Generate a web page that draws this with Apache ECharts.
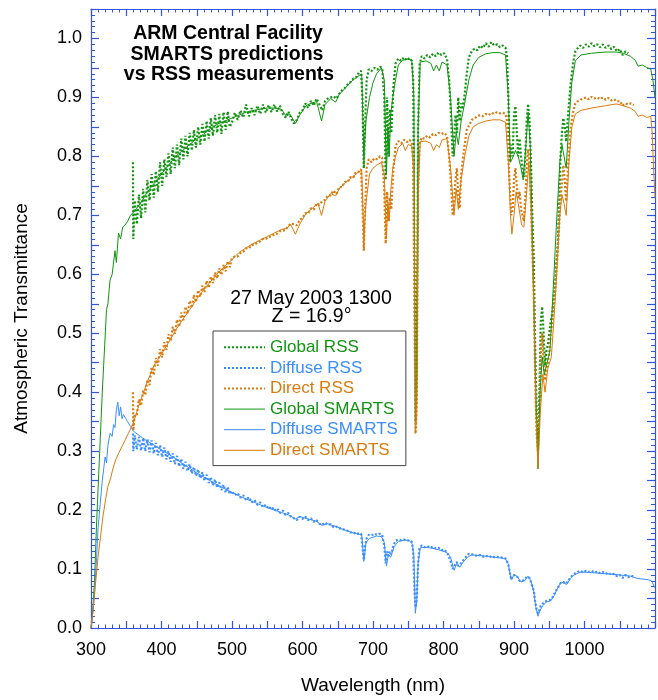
<!DOCTYPE html>
<html>
<head>
<meta charset="utf-8">
<script src="https://cdn.jsdelivr.net/npm/echarts@6/dist/echarts.min.js"></script>
<style>
html,body{margin:0;padding:0;background:#fff;}
#chart{width:658px;height:700px;}
</style>
</head>
<body>
<div id="chart"></div>
<script>
// ---------------- DATA ----------------
const xTicks = [300, 400, 500, 600, 700, 800, 900, 1000];
const yTicks = [0.0, 0.1, 0.2, 0.3, 0.4, 0.5, 0.6, 0.7, 0.8, 0.9, 1.0];

// RSS measurements (shared wavelength grid, nm)
const wlRSS = [359.5,360,362,365,368,371,374,377,380,383,386,389,392,395,398,401,404,407,410,413,416,419,422,425,428,431,434,437,440,443,446,449,452,455,458,461,464,467,470,473,476,479,482,485,488,491,494,497,
500,504,508,512,516,520,524,528,532,536,540,544,548,552,556,560,564,568,572,576,580,584,588,592,596,600,604,608,612,616,620,624,628,632,636,640,644,648,652,656,660,664,668,672,676,680,
683,685,687,689,691,694,698,702,706,710,713,716,718,720,722,724,726,729,732,736,740,744,748,752,755,757,759,760.5,762,764,766,769,773,777,781,785,789,793,797,801,805,808,811,813,815,817,819,821,823,825,827,830,833,836,840,844,848,852,856,860,864,868,872,876,880,884,888,890,892,894,896,898,900,902,904,906,908,910,912,914,916,918,920,922,924,926,928,930,932,934,936,938,940,942,944,946,948,950,952,954,956,958,960,962,964,966,968,970,972,974,976,978,980,982,984,987,990,994,998,1002,1006,1010,1014,1018,1022,1026,1030,1034,1038,1042,1046,1050,1054,1058,1062,1066,1070];

const globalRSS = [0.79,0.66,0.725,0.685,0.735,0.695,0.745,0.705,0.76,0.725,0.77,0.73,0.775,0.74,0.79,0.75,0.795,0.765,0.805,0.77,0.815,0.78,0.82,0.785,0.83,0.795,0.835,0.80,0.84,0.81,0.845,0.815,0.85,0.82,0.855,0.825,0.86,0.83,0.865,0.835,0.87,0.84,0.872,0.838,0.875,0.845,0.876,0.85,
0.858,0.874,0.862,0.878,0.866,0.888,0.868,0.882,0.87,0.886,0.872,0.888,0.874,0.887,0.875,0.888,0.876,0.886,0.872,0.866,0.876,0.864,0.856,0.862,0.874,0.878,0.89,0.882,0.894,0.886,0.898,0.888,0.878,0.894,0.898,0.9,0.902,0.898,0.906,0.912,0.916,0.922,0.926,0.932,0.934,0.942,
0.945,0.90,0.78,0.86,0.93,0.948,0.945,0.95,0.947,0.952,0.95,0.90,0.76,0.90,0.80,0.88,0.84,0.92,0.958,0.966,0.962,0.968,0.963,0.967,0.962,0.93,0.60,0.40,0.45,0.85,0.955,0.97,0.966,0.972,0.968,0.974,0.97,0.976,0.972,0.975,0.965,0.93,0.86,0.80,0.83,0.87,0.84,0.90,0.86,0.89,0.88,0.905,0.94,0.968,0.978,0.983,0.98,0.988,0.984,0.992,0.986,0.994,0.988,0.99,0.985,0.988,0.984,0.97,0.90,0.79,0.82,0.80,0.87,0.885,0.84,0.80,0.83,0.80,0.78,0.765,0.80,0.86,0.889,0.86,0.79,0.70,0.63,0.48,0.365,0.32,0.40,0.52,0.545,0.50,0.445,0.47,0.48,0.50,0.52,0.53,0.56,0.58,0.62,0.65,0.72,0.80,0.84,0.865,0.85,0.825,0.86,0.89,0.92,0.94,0.96,0.978,0.983,0.988,0.984,0.99,0.986,0.992,0.987,0.99,0.985,0.99,0.984,0.988,0.982,0.986,0.978,0.982,0.972,0.978,0.975,null,null];

const diffuseRSS = [0.33,0.30,0.327,0.303,0.324,0.301,0.322,0.3,0.32,0.298,0.318,0.296,0.314,0.293,0.31,0.29,0.306,0.286,0.3,0.282,0.296,0.278,0.292,0.274,0.287,0.27,0.282,0.266,0.278,0.262,0.273,0.258,0.269,0.254,0.264,0.25,0.26,0.246,0.256,0.242,0.252,0.238,0.247,0.234,0.243,0.23,0.239,0.227,
0.232,0.225,0.229,0.221,0.225,0.217,0.222,0.213,0.217,0.209,0.213,0.205,0.209,0.202,0.206,0.199,0.203,0.195,0.199,0.192,0.195,0.188,0.186,0.183,0.189,0.185,0.189,0.183,0.186,0.18,0.183,0.177,0.175,0.179,0.175,0.176,0.171,0.172,0.169,0.169,0.166,0.165,0.162,0.163,0.159,0.161,
0.160,0.14,0.115,0.14,0.152,0.158,0.157,0.16,0.158,0.16,0.158,0.14,0.11,0.13,0.122,0.13,0.125,0.14,0.148,0.15,0.149,0.15,0.148,0.149,0.146,0.13,0.06,0.035,0.05,0.11,0.135,0.14,0.137,0.139,0.136,0.138,0.135,0.136,0.132,0.133,0.128,0.12,0.11,0.10,0.098,0.108,0.112,0.105,0.103,0.11,0.112,0.118,0.122,0.126,0.125,0.124,0.122,0.124,0.121,0.123,0.12,0.122,0.12,0.121,0.119,0.12,0.118,0.115,0.108,0.095,0.082,0.085,0.09,0.092,0.088,0.085,0.08,0.078,0.08,0.079,0.083,0.087,0.089,0.085,0.078,0.07,0.064,0.045,0.032,0.025,0.03,0.038,0.04,0.043,0.044,0.046,0.045,0.047,0.048,0.05,0.055,0.06,0.064,0.068,0.072,0.076,0.079,0.078,0.076,0.075,0.078,0.082,0.085,0.088,0.09,0.093,0.095,0.097,0.094,0.097,0.095,0.097,0.094,0.096,0.093,0.095,0.092,0.094,0.09,0.092,0.088,0.09,0.085,0.09,0.086,0.089,0.087];

const directRSS = [0.40,0.335,0.362,0.362,0.388,0.377,0.403,0.395,0.421,0.412,0.443,0.429,0.458,0.445,0.473,0.459,0.485,0.472,0.498,0.487,0.511,0.499,0.523,0.511,0.535,0.522,0.545,0.533,0.555,0.543,0.565,0.553,0.573,0.562,0.581,0.57,0.589,0.577,0.596,0.585,0.603,0.593,0.61,0.599,0.616,0.605,0.622,0.612,
0.628,0.63,0.63,0.636,0.638,0.644,0.644,0.65,0.65,0.654,0.656,0.66,0.66,0.664,0.664,0.668,0.669,0.673,0.674,0.675,0.682,0.686,0.685,0.683,0.692,0.696,0.704,0.703,0.712,0.71,0.72,0.718,0.724,0.726,0.734,0.734,0.742,0.736,0.748,0.748,0.757,0.756,0.765,0.764,0.774,0.774,
0.778,0.72,0.64,0.72,0.78,0.795,0.79,0.797,0.795,0.80,0.798,0.74,0.652,0.74,0.69,0.73,0.71,0.78,0.818,0.826,0.822,0.828,0.824,0.828,0.824,0.79,0.50,0.33,0.38,0.74,0.822,0.832,0.83,0.835,0.832,0.838,0.836,0.84,0.838,0.84,0.835,0.80,0.745,0.70,0.72,0.76,0.78,0.73,0.712,0.77,0.79,0.82,0.845,0.852,0.862,0.864,0.868,0.87,0.868,0.872,0.87,0.874,0.872,0.875,0.873,0.874,0.872,0.86,0.80,0.75,0.70,0.71,0.76,0.78,0.75,0.728,0.74,0.71,0.70,0.69,0.73,0.78,0.812,0.79,0.72,0.64,0.565,0.42,0.33,0.30,0.36,0.46,0.50,0.45,0.42,0.44,0.45,0.47,0.50,0.515,0.54,0.56,0.60,0.64,0.68,0.73,0.755,0.785,0.76,0.724,0.77,0.81,0.845,0.862,0.876,0.89,0.893,0.896,0.898,0.9,0.897,0.901,0.898,0.9,0.897,0.9,0.896,0.899,0.895,0.897,0.893,0.894,0.886,0.89,0.888,0.89,0.887];

// SMARTS predictions
const wlGlobalSMARTS = [300,302,305,308,312,316,319,322,324,327,330,334,336,339,342,345,348,352,356,360,370,380,390,400,410,420,430,440,450,460,470,480,490,500,510,520,530,540,550,560,570,577,582,590,596,605,612,620,627,632,640,647,652,660,670,680,684,687,690,695,700,705,712,716,719,721,723,725,728,732,736,742,750,755,758,760,762,764,767,775,782,786,790,794,798,805,810,815,818,821,825,830,836,842,850,860,870,880,888,892,895,899,902,906,910,913,917,920,923,927,931,934,937,940,943,947,951,955,960,965,968,971,974,978,982,987,995,1010,1030,1045,1055,1065,1072,1076,1082,1088,1094,1097,1100];
const globalSMARTS = [0.0,0.02,0.08,0.18,0.29,0.40,0.47,0.54,0.55,0.59,0.60,0.64,0.62,0.67,0.66,0.68,0.683,0.69,0.70,0.705,0.72,0.74,0.755,0.77,0.785,0.80,0.81,0.82,0.83,0.838,0.848,0.855,0.86,0.865,0.87,0.875,0.878,0.88,0.882,0.882,0.88,0.868,0.872,0.856,0.87,0.886,0.89,0.893,0.86,0.888,0.898,0.892,0.905,0.915,0.928,0.937,0.94,0.80,0.86,0.90,0.925,0.94,0.95,0.93,0.77,0.85,0.80,0.87,0.90,0.93,0.955,0.963,0.965,0.963,0.90,0.35,0.40,0.85,0.96,0.962,0.958,0.945,0.955,0.945,0.96,0.955,0.90,0.80,0.84,0.82,0.86,0.89,0.93,0.955,0.968,0.974,0.976,0.976,0.972,0.90,0.79,0.80,0.81,0.80,0.78,0.76,0.82,0.875,0.82,0.62,0.40,0.27,0.40,0.46,0.43,0.45,0.47,0.56,0.68,0.79,0.82,0.80,0.78,0.86,0.925,0.962,0.972,0.975,0.977,0.977,0.975,0.97,0.963,0.953,0.955,0.951,0.948,0.93,0.90];

const wlDiffuseSMARTS = [300,302,305,308,310,313,316,318,320,322,324,327,330,332,334,336,338,340,342,344,346,348,352,356,360,370,380,390,400,410,420,430,440,450,460,470,480,490,500,510,520,530,540,550,560,570,580,590,596,605,620,628,635,650,660,670,680,684,687,690,695,705,712,716,719,722,725,730,736,745,752,756,758,760,762,764,767,775,785,795,805,810,815,819,823,828,834,840,860,880,888,892,896,900,904,910,915,920,924,928,931,934,937,941,946,952,957,962,967,971,975,980,985,995,1010,1030,1050,1065,1075,1090,1095,1100];
const diffuseSMARTS = [0.0,0.02,0.06,0.12,0.17,0.21,0.25,0.27,0.29,0.28,0.31,0.33,0.325,0.345,0.34,0.37,0.383,0.36,0.375,0.355,0.362,0.358,0.35,0.342,0.334,0.325,0.317,0.31,0.302,0.295,0.287,0.279,0.271,0.263,0.256,0.249,0.242,0.236,0.23,0.224,0.219,0.214,0.209,0.204,0.2,0.196,0.192,0.185,0.189,0.186,0.181,0.174,0.177,0.171,0.166,0.162,0.159,0.158,0.113,0.145,0.152,0.156,0.155,0.145,0.105,0.125,0.12,0.138,0.147,0.149,0.148,0.142,0.12,0.025,0.045,0.11,0.136,0.137,0.135,0.132,0.128,0.12,0.098,0.11,0.103,0.112,0.12,0.124,0.122,0.119,0.117,0.108,0.082,0.09,0.088,0.078,0.08,0.088,0.08,0.062,0.035,0.02,0.03,0.038,0.044,0.046,0.055,0.068,0.078,0.076,0.074,0.084,0.09,0.095,0.094,0.092,0.09,0.088,0.084,0.082,0.08,0.068];

const wlDirectSMARTS = [300,303,306,310,314,317,321,324,328,331,335,339,344,348,353,357,360,370,380,390,400,410,420,430,440,450,460,470,480,490,500,510,520,530,540,550,560,570,578,583,590,596,605,615,622,627,632,640,647,652,660,670,680,684,687,690,695,700,705,712,716,719,721,723,725,728,732,736,742,746,750,755,758,760,762,764,767,775,782,786,790,794,798,805,810,815,818,821,825,830,836,842,850,860,870,880,888,892,895,897,900,903,906,911,914,918,921,924,928,931,934,937,941,944,948,953,957,961,965,968,971,974,978,982,987,995,1010,1030,1045,1055,1065,1072,1076,1082,1088,1094,1096,1098,1100];
const directSMARTS = [0.0,0.03,0.07,0.12,0.16,0.19,0.22,0.24,0.255,0.27,0.285,0.296,0.308,0.318,0.33,0.34,0.348,0.385,0.418,0.447,0.465,0.484,0.505,0.523,0.54,0.558,0.574,0.588,0.602,0.614,0.625,0.637,0.645,0.652,0.658,0.664,0.67,0.676,0.678,0.685,0.668,0.685,0.703,0.713,0.72,0.70,0.724,0.737,0.733,0.745,0.755,0.764,0.774,0.776,0.66,0.72,0.77,0.78,0.785,0.79,0.77,0.66,0.72,0.69,0.74,0.78,0.80,0.815,0.822,0.81,0.82,0.818,0.77,0.33,0.36,0.74,0.825,0.826,0.822,0.81,0.82,0.815,0.828,0.83,0.78,0.70,0.745,0.71,0.76,0.80,0.835,0.85,0.856,0.86,0.862,0.862,0.858,0.79,0.70,0.668,0.70,0.74,0.72,0.683,0.68,0.74,0.79,0.72,0.55,0.37,0.27,0.36,0.43,0.40,0.44,0.46,0.53,0.61,0.70,0.735,0.72,0.70,0.79,0.85,0.872,0.878,0.882,0.886,0.889,0.886,0.882,0.876,0.868,0.87,0.866,0.868,0.84,0.78,0.73];

// Text
const titleLines = ['ARM Central Facility', 'SMARTS predictions', 'vs RSS measurements'];
const dateText = '27 May 2003 1300';
const zenithText = 'Z = 16.9°';
const seriesNames = ['Global RSS', 'Diffuse RSS', 'Direct RSS', 'Global SMARTS', 'Diffuse SMARTS', 'Direct SMARTS'];

// ---------------- STYLE ----------------
const GREEN = '#129412', BLUE = '#3b8eff', ORANGE = '#d97b0d';
const AXIS = '#3355dd';
const FONT = '"Liberation Sans", Arial, Helvetica, sans-serif';

function pairs(xs, ys) { return xs.map((x, i) => [x, ys[i]]); }

const chart = echarts.init(document.getElementById('chart'), null, {renderer: 'canvas'});

const xLabelFmt = v => (xTicks.indexOf(v) >= 0 ? String(v) : '');
const yLabelFmt = v => {
  for (const t of yTicks) if (Math.abs(t - v) < 1e-6) return t.toFixed(1);
  return '';
};

function xAxisDef(pos, showLabel) {
  return {
    type: 'value', position: pos, min: 300, max: 1100, interval: 50,
    axisLine: {show: true, onZero: false, lineStyle: {color: AXIS, width: 1.2}},
    axisTick: {show: true, inside: true, length: 7, lineStyle: {color: AXIS, width: 1.2}},
    minorTick: {show: true, splitNumber: 5, length: 3.5, lineStyle: {color: AXIS, width: 1}},
    axisLabel: {show: showLabel, formatter: xLabelFmt, color: '#000', fontSize: 18, fontFamily: FONT, margin: 13},
    splitLine: {show: false},
    name: showLabel ? 'Wavelength (nm)' : '',
    nameLocation: 'middle', nameGap: 48,
    nameTextStyle: {color: '#000', fontSize: 19, fontFamily: FONT}
  };
}
function yAxisDef(pos, showLabel) {
  return {
    type: 'value', position: pos, min: 0, max: 1.05, interval: 0.05,
    axisLine: {show: true, onZero: false, lineStyle: {color: AXIS, width: 1.2}},
    axisTick: {show: true, inside: true, length: 8, lineStyle: {color: AXIS, width: 1.2}},
    minorTick: {show: true, splitNumber: 5, length: 4, lineStyle: {color: AXIS, width: 1}},
    axisLabel: {show: showLabel, formatter: yLabelFmt, color: '#000', fontSize: 18, fontFamily: FONT, margin: 9},
    splitLine: {show: false},
    name: showLabel ? 'Atmospheric Transmittance' : '',
    nameLocation: 'middle', nameGap: 60, nameRotate: 90,
    nameTextStyle: {color: '#000', fontSize: 19, fontFamily: FONT}
  };
}

const rssDash = [2, 2];
function lineSeries(name, color, data, dashed, z) {
  return {
    name: name, type: 'line', data: data, symbol: 'none', showSymbol: false,
    xAxisIndex: 0, yAxisIndex: 0, connectNulls: false, z: z,
    lineStyle: {color: color, width: dashed ? 2.2 : 1, type: dashed ? rssDash : 'solid'},
    itemStyle: {color: color},
    emphasis: {disabled: true}
  };
}
function legendItem(name, color, dashed) {
  return {name: name, textStyle: {color: color},
          lineStyle: {color: color, width: dashed ? 2 : 1, type: dashed ? rssDash : 'solid'}};
}

const option = {
  animation: false,
  backgroundColor: '#fff',
  grid: {left: 91, top: 9, width: 566, height: 622, containLabel: false},
  xAxis: [xAxisDef('bottom', true), xAxisDef('top', false)],
  yAxis: [yAxisDef('left', true), yAxisDef('right', false)],
  legend: {
    orient: 'vertical', left: 213, top: 331,
    padding: [6, 8, 5, 10], itemGap: 0,
    itemWidth: 41, itemHeight: 14,
    backgroundColor: '#fff', borderColor: '#444', borderWidth: 1,
    selectedMode: false,
    itemStyle: {opacity: 0, borderWidth: 0},
    textStyle: {fontSize: 17, fontFamily: FONT, lineHeight: 20.6},
    data: [
      legendItem(seriesNames[0], GREEN, true),
      legendItem(seriesNames[1], BLUE, true),
      legendItem(seriesNames[2], ORANGE, true),
      legendItem(seriesNames[3], GREEN, false),
      legendItem(seriesNames[4], BLUE, false),
      legendItem(seriesNames[5], ORANGE, false)
    ]
  },
  series: [
    lineSeries(seriesNames[0], GREEN, pairs(wlRSS, globalRSS), true, 2),
    lineSeries(seriesNames[1], BLUE, pairs(wlRSS, diffuseRSS), true, 2),
    lineSeries(seriesNames[2], ORANGE, pairs(wlRSS, directRSS), true, 2),
    lineSeries(seriesNames[3], GREEN, pairs(wlGlobalSMARTS, globalSMARTS), false, 3),
    lineSeries(seriesNames[4], BLUE, pairs(wlDiffuseSMARTS, diffuseSMARTS), false, 3),
    lineSeries(seriesNames[5], ORANGE, pairs(wlDirectSMARTS, directSMARTS), false, 3)
  ],
  graphic: [
    {type: 'text', x: 228, y: 34, z: 10, style: {text: titleLines[0], fill: '#000', font: 'bold 19.5px ' + FONT, align: 'center', verticalAlign: 'middle'}},
    {type: 'text', x: 227, y: 54.5, z: 10, style: {text: titleLines[1], fill: '#000', font: 'bold 19.5px ' + FONT, align: 'center', verticalAlign: 'middle'}},
    {type: 'text', x: 229, y: 74.5, z: 10, style: {text: titleLines[2], fill: '#000', font: 'bold 19.5px ' + FONT, align: 'center', verticalAlign: 'middle'}},
    {type: 'text', x: 311, y: 298.5, z: 10, style: {text: dateText, fill: '#000', font: '19.5px ' + FONT, align: 'center', verticalAlign: 'middle'}},
    {type: 'text', x: 311.5, y: 317, z: 10, style: {text: zenithText, fill: '#000', font: '19.5px ' + FONT, align: 'center', verticalAlign: 'middle'}}
  ]
};
chart.setOption(option);
</script>
</body>
</html>
